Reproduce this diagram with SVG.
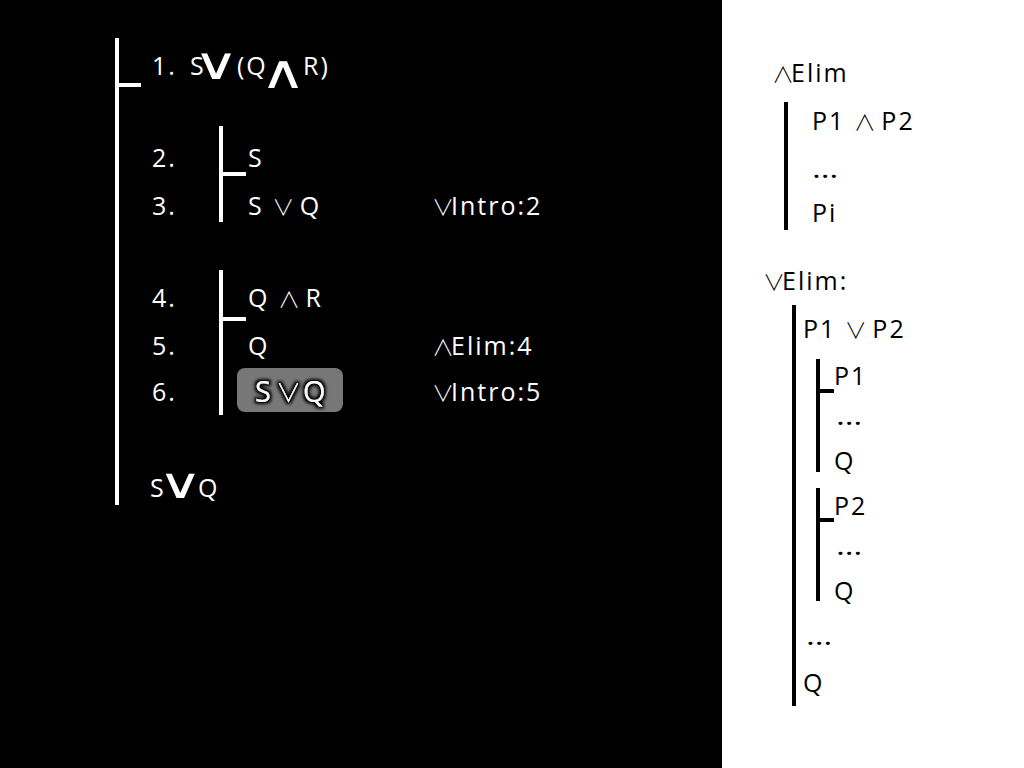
<svg xmlns="http://www.w3.org/2000/svg" width="1024" height="768" viewBox="0 0 1024 768">
<defs>
<style>
.w{fill:#fff;font-family:"Open Sans","DejaVu Sans",sans-serif;font-size:25px;letter-spacing:2px}
.k{fill:#000;font-family:"Open Sans","DejaVu Sans",sans-serif;font-size:25px;letter-spacing:2px}
.op{font-family:"Noto Sans CJK JP","DejaVu Sans",sans-serif;font-weight:300;font-size:22px;letter-spacing:-3px}
.big{font-family:"DejaVu Sans",sans-serif;font-size:42px;fill:#fff;letter-spacing:0}
.hl{font-size:29px;letter-spacing:5px}
.hlop{font-size:25px;letter-spacing:2px}
.wb{stroke:#fff;stroke-width:4;fill:none}
.kb{stroke:#000;stroke-width:4;fill:none}
</style>
<filter id="glow" x="-20%" y="-30%" width="140%" height="160%">
<feMorphology in="SourceAlpha" operator="dilate" radius="2" result="d"/>
<feGaussianBlur in="d" stdDeviation="1.5" result="b"/>
<feFlood flood-color="#000"/>
<feComposite in2="b" operator="in" result="s"/>
<feMerge><feMergeNode in="s"/><feMergeNode in="SourceGraphic"/></feMerge>
</filter>
</defs>
<rect x="0" y="0" width="722" height="768" fill="#000"/>
<rect x="722" y="0" width="302" height="768" fill="#fff"/>
<g id="connectors">
<path class="wb" d="M117,38 V505 M117,85 H141"/>
<path class="wb" d="M221,126 V222 M221,174 H246"/>
<path class="wb" d="M221,270 V415 M221,319 H246"/>
<path class="kb" d="M786,102 V230"/>
<path class="kb" d="M794,305 V706"/>
<path class="kb" d="M818,359 V472 M818,391 H834"/>
<path class="kb" d="M818,488 V601 M818,520 H834"/>
</g>
<g id="line1">
<text class="w" x="152" y="75">1.</text>
<text class="w" x="190" y="75">S</text>
<text class="big" transform="translate(193,79) scale(1.5,1.05)">∨</text>
<text class="w" x="237" y="75">(Q</text>
<text class="big" transform="translate(260,88) scale(1.5,1.1)">∧</text>
<text class="w" x="303" y="75">R)</text>
</g>
<g id="line2"><text class="w" x="152" y="167">2.</text><text class="w" x="248" y="167">S</text></g>
<g id="line3"><text class="w" x="152" y="215">3.</text><text class="w" x="248" y="215">S <tspan class="op">∨</tspan> Q</text><text class="w" x="432" y="215"><tspan class="op">∨</tspan>Intro:2</text></g>
<g id="line4"><text class="w" x="152" y="307">4.</text><text class="w" x="248" y="307">Q <tspan class="op">∧</tspan> R</text></g>
<g id="line5"><text class="w" x="152" y="355">5.</text><text class="w" x="248" y="355">Q</text><text class="w" x="432" y="355"><tspan class="op">∧</tspan>Elim:4</text></g>
<g id="line6"><text class="w" x="152" y="401">6.</text><rect x="237" y="368" width="106" height="44" rx="8" fill="#777"/><text class="w hl" x="255" y="402" filter="url(#glow)">S<tspan class="op hlop">∨</tspan>Q</text><text class="w" x="432" y="401"><tspan class="op">∨</tspan>Intro:5</text></g>
<g id="conclusion">
<text class="w" x="150" y="497">S</text>
<text class="big" transform="translate(158,498) scale(1.45,1)">∨</text>
<text class="w" x="198" y="497">Q</text>
</g>
<g id="andElim">
<text class="k" x="772" y="82"><tspan class="op">∧</tspan>Elim</text>
<text class="k" x="812" y="130">P1 <tspan class="op">∧</tspan> P2</text>
<text class="k" transform="translate(812,178) scale(1.35,1)">…</text>
<text class="k" x="812" y="222">Pi</text>
</g>
<g id="orElim">
<text class="k" x="763" y="290"><tspan class="op">∨</tspan>Elim:</text>
<text class="k" x="803" y="338">P1 <tspan class="op">∨</tspan> P2</text>
<text class="k" x="834" y="385">P1</text>
<text class="k" transform="translate(836,425) scale(1.35,1)">…</text>
<text class="k" x="834" y="470">Q</text>
<text class="k" x="834" y="515">P2</text>
<text class="k" transform="translate(836,555) scale(1.35,1)">…</text>
<text class="k" x="834" y="600">Q</text>
<text class="k" transform="translate(806,645) scale(1.35,1)">…</text>
<text class="k" x="803" y="692">Q</text>
</g>
</svg>
